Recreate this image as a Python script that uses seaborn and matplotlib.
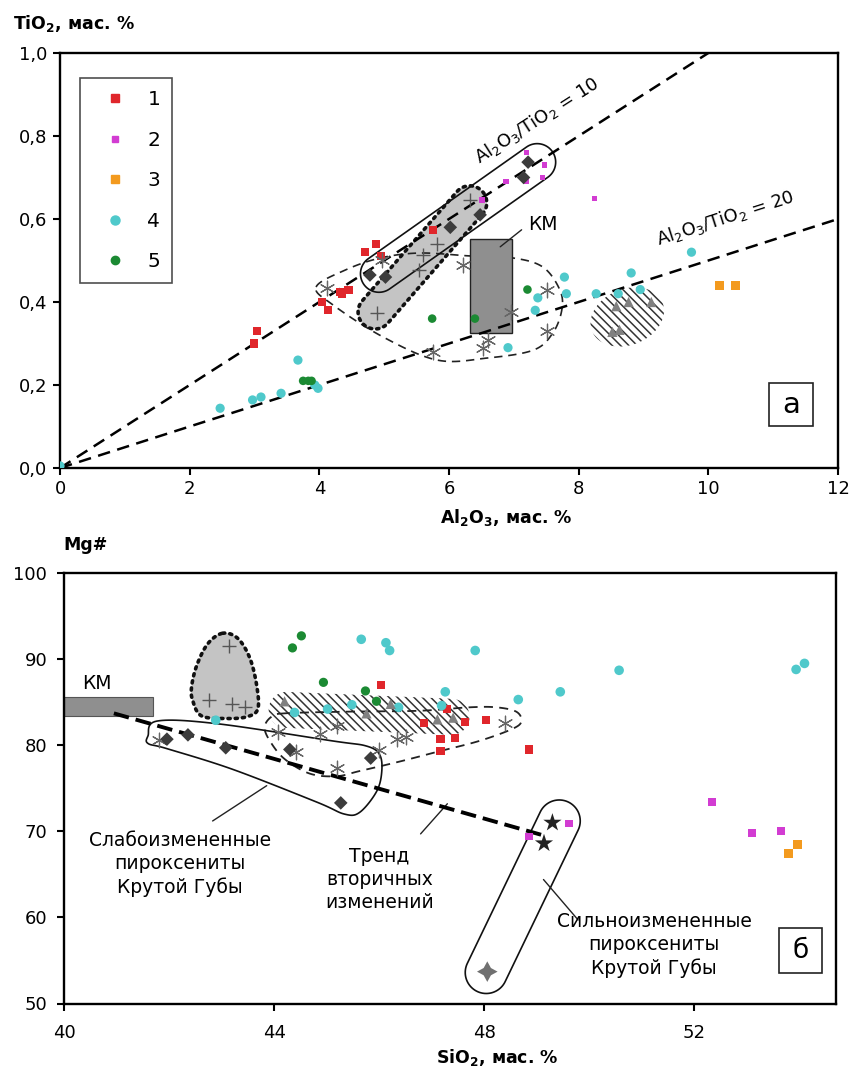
import numpy as np
import matplotlib
matplotlib.use("Agg")
import matplotlib.pyplot as plt
import seaborn as sns
from matplotlib.patches import Polygon, Rectangle
from matplotlib.lines import Line2D

sns.set_style("ticks")
plt.rcParams['font.family'] = ['DejaVu Sans']
plt.rcParams['mathtext.default'] = 'regular'
plt.rcParams['hatch.linewidth'] = 1.1
plt.rcParams['text.color'] = 'black'
plt.rcParams['axes.edgecolor'] = 'black'
plt.rcParams['xtick.color'] = 'black'
plt.rcParams['ytick.color'] = 'black'

# ---------------- Panel a: Al2O3 vs TiO2 ----------------
a_s1_x = [2.99, 3.04, 4.04, 4.14, 4.35, 4.45, 4.32, 4.71, 4.88, 4.95, 5.76]
a_s1_y = [0.30, 0.33, 0.40, 0.38, 0.42, 0.43, 0.425, 0.52, 0.54, 0.51, 0.573]
a_s2_x = [7.20, 7.47, 6.88, 7.19, 7.44, 6.51, 8.24]
a_s2_y = [0.76, 0.73, 0.69, 0.69, 0.70, 0.646, 0.65]
a_s3_x = [10.17, 10.42]
a_s3_y = [0.44, 0.44]
a_s4_x = [0.0, 2.47, 2.97, 3.10, 3.41, 3.67, 3.98, 3.93, 7.78, 7.81, 7.37, 7.33,
          6.91, 8.27, 8.61, 8.81, 8.95, 9.74]
a_s4_y = [0.005, 0.144, 0.164, 0.171, 0.18, 0.26, 0.192, 0.20, 0.46, 0.42, 0.41, 0.38,
          0.29, 0.42, 0.42, 0.47, 0.43, 0.52]
a_s5_x = [3.75, 3.83, 3.88, 5.74, 6.40, 7.21]
a_s5_y = [0.21, 0.21, 0.21, 0.36, 0.36, 0.43]
a_diam_x = [4.78, 5.02, 6.02, 6.48, 7.22, 7.15]
a_diam_y = [0.465, 0.46, 0.58, 0.61, 0.737, 0.70]
a_plus_x = [4.89, 5.53, 5.60, 5.82, 6.33]
a_plus_y = [0.373, 0.477, 0.513, 0.54, 0.646]
a_ast_x = [4.12, 4.97, 6.22, 7.51, 6.96, 7.51, 6.60, 6.52, 5.76]
a_ast_y = [0.433, 0.50, 0.49, 0.43, 0.376, 0.33, 0.308, 0.29, 0.28]
a_tri_x = [8.58, 8.77, 9.12, 8.52, 8.63]
a_tri_y = [0.39, 0.40, 0.40, 0.328, 0.333]
a_km_x = [6.33, 6.97]
a_km_y = [0.325, 0.552]
a_ratios = [10, 20]
a_xticks = [0, 2, 4, 6, 8, 10, 12]
a_yticks = [0.0, 0.2, 0.4, 0.6, 0.8, 1.0]
a_yticklabels = ["0,0", "0,2", "0,4", "0,6", "0,8", "1,0"]
legend_labels = ["1", "2", "3", "4", "5"]

# ---------------- Panel b: SiO2 vs Mg# ----------------
b_s1_x = [46.04, 46.86, 47.30, 47.64, 48.04, 47.17, 47.45, 47.17, 48.86]
b_s1_y = [87.0, 82.6, 84.2, 82.7, 82.9, 80.7, 80.8, 79.3, 79.5]
b_s2_x = [52.34, 53.10, 53.65, 49.62, 48.86]
b_s2_y = [73.4, 69.8, 70.0, 70.9, 69.4]
b_s3_x = [53.80, 53.97]
b_s3_y = [67.4, 68.5]
b_s4_x = [45.66, 46.13, 46.20, 42.89, 44.39, 45.02, 45.48, 46.37, 47.83, 50.57,
          53.94, 54.10, 47.26, 48.65, 49.45, 47.19]
b_s4_y = [92.3, 91.9, 91.0, 82.9, 83.8, 84.2, 84.7, 84.4, 91.0, 88.7,
          88.8, 89.5, 86.2, 85.3, 86.2, 84.6]
b_s5_x = [44.35, 44.52, 44.94, 45.74, 45.95]
b_s5_y = [91.3, 92.7, 87.3, 86.3, 85.1]
b_diam_x = [41.96, 42.36, 43.08, 44.30, 45.84, 45.27]
b_diam_y = [80.7, 81.2, 79.7, 79.5, 78.5, 73.3]
b_plus_x = [43.14, 42.76, 43.20, 43.45]
b_plus_y = [91.5, 85.3, 84.8, 84.4]
b_tri_x = [44.20, 45.76, 46.22, 47.11, 47.41]
b_tri_y = [85.1, 83.7, 84.8, 83.0, 83.2]
b_ast_x = [41.80, 44.07, 44.87, 45.19, 44.41, 45.19, 46.00, 46.35, 46.52, 48.40]
b_ast_y = [80.6, 81.5, 81.3, 82.2, 79.2, 77.4, 79.5, 80.7, 80.9, 82.6]
b_star_x = [49.30, 49.14]
b_star_y = [71.0, 68.6]
b_star4_x = [48.06]
b_star4_y = [53.7]
b_km_x = [40.0, 41.7]
b_km_y = [83.4, 85.6]
b_trend_x = [40.95, 49.2]
b_trend_y = [83.7, 69.4]
b_xticks = [40, 44, 48, 52]
b_yticks = [50, 60, 70, 80, 90, 100]

# colours
C1, C2, C3, C4, C5 = '#e0262b', '#d23cd2', '#f39a1e', '#4fc9cb', '#1b8a33'
C_DIAM, C_GRAY, C_TRI = '#3c3c3c', '#666666', '#808080'

fig = plt.figure(figsize=(8.52, 10.67), dpi=100)
W, H = 852.0, 1067.0
axA = fig.add_axes([60 / W, 1 - 468 / H, 778 / W, 415 / H])
axB = fig.add_axes([64 / W, 1 - 1003.5 / H, 772 / W, 430.5 / H])

axA.set_xlim(0, 12)
axA.set_ylim(0, 1.0)
axB.set_xlim(40, 54.7)
axB.set_ylim(50, 100)

for ax in (axA, axB):
    for sp in ax.spines.values():
        sp.set_linewidth(1.7)
        sp.set_color('black')
    ax.tick_params(direction='out', length=5, width=1.5, labelsize=13,
                   colors='black', pad=4)
    ax.set_xlabel('')
    ax.set_ylabel('')
axB.tick_params(axis='x', pad=10)
axB.tick_params(axis='y', pad=7)

axA.set_xticks(a_xticks)
axA.set_xticklabels([str(v) for v in a_xticks])
axA.set_yticks(a_yticks)
axA.set_yticklabels(a_yticklabels)
axB.set_xticks(b_xticks)
axB.set_xticklabels([str(v) for v in b_xticks])
axB.set_yticks(b_yticks)
axB.set_yticklabels([str(v) for v in b_yticks])


# ------------- geometry helpers (display-space shapes) -------------
def to_disp(ax, pts):
    return ax.transData.transform(np.asarray(pts, float))


def to_data(ax, P):
    return ax.transData.inverted().transform(np.asarray(P, float))


def capsule(ax, p0, p1, r, n=40):
    P0, P1 = to_disp(ax, [p0, p1])
    d = P1 - P0
    ang = np.arctan2(d[1], d[0])
    t1 = np.linspace(ang - np.pi / 2, ang + np.pi / 2, n)
    t0 = np.linspace(ang + np.pi / 2, ang + 3 * np.pi / 2, n)
    pts = np.vstack([P1 + r * np.c_[np.cos(t1), np.sin(t1)],
                     P0 + r * np.c_[np.cos(t0), np.sin(t0)]])
    return to_data(ax, pts)


def ellipse(ax, c, a, b, ang_deg, n=100):
    C = to_disp(ax, [c])[0]
    t = np.linspace(0, 2 * np.pi, n)
    th = np.radians(ang_deg)
    x = a * np.cos(t)
    y = b * np.sin(t)
    pts = np.c_[C[0] + x * np.cos(th) - y * np.sin(th),
                C[1] + x * np.sin(th) + y * np.cos(th)]
    return to_data(ax, pts)


def smooth_closed(ax, pts, k=14):
    P = to_disp(ax, pts)
    N = len(P)
    out = []
    for i in range(N):
        p0, p1, p2, p3 = P[i - 1], P[i], P[(i + 1) % N], P[(i + 2) % N]
        for t in np.linspace(0, 1, k, endpoint=False):
            t2, t3 = t * t, t * t * t
            out.append(0.5 * (2 * p1 + (-p0 + p2) * t
                              + (2 * p0 - 5 * p1 + 4 * p2 - p3) * t2
                              + (-p0 + 3 * p1 - 3 * p2 + p3) * t3))
    return to_data(ax, out)


def pts(ax, x, y, marker, color, s, lw=0.0):
    kw = dict(x=x, y=y, marker=marker, color=color, s=s, ax=ax, zorder=5,
              legend=False)
    m = matplotlib.markers.MarkerStyle(marker)
    if m.is_filled():
        kw.update(linewidth=0, edgecolor='none')
    else:
        kw.update(linewidth=lw)
    sns.scatterplot(**kw)


# ======================= Panel a shapes =======================
a_dash_outline = [(3.95, 0.436), (4.40, 0.477), (4.94, 0.506), (5.55, 0.518),
                  (6.32, 0.511), (6.99, 0.506), (7.45, 0.484), (7.71, 0.429),
                  (7.74, 0.381), (7.60, 0.325), (7.30, 0.284), (6.59, 0.265),
                  (5.82, 0.260), (4.98, 0.316), (4.21, 0.393)]
axA.add_patch(Polygon(smooth_closed(axA, a_dash_outline), closed=True, fill=False,
                      edgecolor='#222222', linewidth=1.2, linestyle=(0, (5, 3.5)),
                      zorder=2))
axA.add_patch(Polygon(capsule(axA, (4.86, 0.376), (6.32, 0.639), 17), closed=True,
                      facecolor='#c4c4c4', edgecolor='none', zorder=1.5))
dot = Polygon(capsule(axA, (4.86, 0.376), (6.32, 0.639), 17), closed=True,
              fill=False, edgecolor='#111111', linewidth=2.6,
              linestyle=(0, (0.6, 1.4)), zorder=2.2)
dot.set_capstyle('round')
axA.add_patch(dot)
axA.add_patch(Polygon(capsule(axA, (4.92, 0.468), (7.36, 0.737), 18.5), closed=True,
                      fill=False, edgecolor='#111111', linewidth=1.2, zorder=2.3))
axA.add_patch(Polygon(ellipse(axA, (8.75, 0.364), 38, 28, 22), closed=True,
                      facecolor='white', edgecolor='#333333', linewidth=0,
                      hatch='\\\\\\\\', zorder=1.5))
axA.add_patch(Rectangle((a_km_x[0], a_km_y[0]), a_km_x[1] - a_km_x[0],
                        a_km_y[1] - a_km_y[0], facecolor='#8f8f8f',
                        edgecolor='#222222', linewidth=1.0, zorder=2.5))
axA.plot([6.79, 7.12], [0.533, 0.574], color='#222222', lw=1.0, zorder=3)
axA.text(7.22, 0.587, "КМ", fontsize=13.5, ha='left', va='center', zorder=6)

xl = np.array([0.0, 12.0])
for r in a_ratios:
    axA.plot(xl, xl / r, color='black', lw=1.8, linestyle=(0, (5, 3)), zorder=3.5)
axA.text(7.36, 0.838, r"Al$_2$O$_3$/TiO$_2$ = 10", fontsize=13, ha='center',
         va='center', rotation=np.degrees(np.arctan(1 / 10)),
         transform_rotates_text=True, rotation_mode='anchor', zorder=6)
axA.text(10.26, 0.602, r"Al$_2$O$_3$/TiO$_2$ = 20", fontsize=13, ha='center',
         va='center', rotation=np.degrees(np.arctan(1 / 20)),
         transform_rotates_text=True, rotation_mode='anchor', zorder=6)

pts(axA, a_s1_x, a_s1_y, 's', C1, 34)
pts(axA, a_s2_x, a_s2_y, 's', C2, 14)
pts(axA, a_s3_x, a_s3_y, 's', C3, 40)
pts(axA, a_s4_x, a_s4_y, 'o', C4, 44)
pts(axA, a_s5_x, a_s5_y, 'o', C5, 38)
pts(axA, a_tri_x, a_tri_y, '^', C_TRI, 55)
pts(axA, a_ast_x, a_ast_y, (6, 2, 0), C_GRAY, 110, lw=0.9)
pts(axA, a_plus_x, a_plus_y, '+', '#555555', 110, lw=1.0)
pts(axA, a_diam_x, a_diam_y, 'D', C_DIAM, 48)

handles = [Line2D([], [], marker='s', color=C1, linestyle='', markersize=6),
           Line2D([], [], marker='s', color=C2, linestyle='', markersize=4),
           Line2D([], [], marker='s', color=C3, linestyle='', markersize=6),
           Line2D([], [], marker='o', color=C4, linestyle='', markersize=6.5),
           Line2D([], [], marker='o', color=C5, linestyle='', markersize=6)]
leg = axA.legend(handles, legend_labels, loc='upper left',
                 bbox_to_anchor=((80 - 60) / 778, (468 - 78) / 415),
                 borderaxespad=0, fontsize=14.5, frameon=True, fancybox=False,
                 handlelength=2.3, handletextpad=0.45, borderpad=0.6,
                 labelspacing=1.07)
leg.get_frame().set_edgecolor('#222222')
leg.get_frame().set_linewidth(1.2)
leg.set_zorder(7)

axA.add_patch(Rectangle((0.911, 0.101), 0.057, 0.104, transform=axA.transAxes,
                        fill=False, edgecolor='#222222', lw=1.2, zorder=6))
axA.text(0.9395, 0.153, "а", transform=axA.transAxes, fontsize=21,
         ha='center', va='center', zorder=6)

# ======================= Panel b shapes =======================
b_dot_outline = [(43.02, 93.0), (43.31, 92.4), (43.54, 90.1), (43.67, 86.9),
                 (43.69, 84.2), (43.48, 83.3), (43.10, 83.1), (42.62, 83.4),
                 (42.45, 85.2), (42.43, 86.8), (42.53, 89.3), (42.74, 91.8)]
shp = smooth_closed(axB, b_dot_outline)
axB.add_patch(Polygon(shp, closed=True, facecolor='#c4c4c4', edgecolor='none',
                      zorder=1.5))
dotb = Polygon(shp, closed=True, fill=False, edgecolor='#111111', linewidth=2.6,
               linestyle=(0, (0.6, 1.4)), zorder=2.2)
dotb.set_capstyle('round')
axB.add_patch(dotb)

axB.add_patch(Polygon(capsule(axB, (44.24, 84.1), (47.38, 83.3), 18), closed=True,
                      facecolor='white', edgecolor='#333333', linewidth=0,
                      hatch='\\\\\\\\', zorder=1.5))

b_dash_outline = [(44.20, 83.7), (45.44, 83.9), (46.77, 84.0), (47.72, 84.4),
                  (48.23, 84.4), (48.61, 83.9), (48.71, 82.8), (48.54, 81.9),
                  (47.91, 80.5), (47.15, 79.3), (46.39, 78.1), (45.63, 77.0),
                  (45.19, 76.4), (44.68, 76.7), (44.20, 78.4), (43.92, 80.5),
                  (43.82, 82.1), (43.95, 83.3)]
axB.add_patch(Polygon(smooth_closed(axB, b_dash_outline), closed=True, fill=False,
                      edgecolor='#222222', linewidth=1.3, linestyle=(0, (5, 3.5)),
                      zorder=2))

b_solid_outline = [(41.60, 81.1), (41.77, 82.8), (42.91, 82.5), (45.11, 80.5),
                   (45.76, 79.9), (46.01, 78.9), (46.05, 76.9), (45.95, 74.6),
                   (45.63, 72.2), (45.34, 72.0), (44.81, 73.4), (43.21, 77.2),
                   (41.96, 79.6), (41.60, 80.2)]
axB.add_patch(Polygon(smooth_closed(axB, b_solid_outline), closed=True, fill=False,
                      edgecolor='#111111', linewidth=1.2, zorder=2.3))

axB.add_patch(Polygon(capsule(axB, (48.04, 53.6), (49.43, 71.2), 21), closed=True,
                      fill=False, edgecolor='#111111', linewidth=1.2, zorder=2.3))

axB.add_patch(Rectangle((b_km_x[0], b_km_y[0]), b_km_x[1] - b_km_x[0],
                        b_km_y[1] - b_km_y[0], facecolor='#8f8f8f',
                        edgecolor='#555555', linewidth=0.8, zorder=2.5,
                        clip_on=False))
axB.text(40.34, 87.2, "КМ", fontsize=13.5, ha='left', va='center', zorder=6)

axB.plot(b_trend_x, b_trend_y, color='black', lw=2.8, linestyle=(0, (4, 1.8)),
         zorder=3.5)

pts(axB, b_s1_x, b_s1_y, 's', C1, 34)
pts(axB, b_s2_x, b_s2_y, 's', C2, 30)
pts(axB, b_s3_x, b_s3_y, 's', C3, 40)
pts(axB, b_s4_x, b_s4_y, 'o', C4, 48)
pts(axB, b_s5_x, b_s5_y, 'o', C5, 44)
pts(axB, b_tri_x, b_tri_y, '^', C_TRI, 55)
pts(axB, b_ast_x, b_ast_y, (6, 2, 0), C_GRAY, 110, lw=0.9)
pts(axB, b_plus_x, b_plus_y, '+', '#555555', 110, lw=1.0)
pts(axB, b_diam_x, b_diam_y, 'D', C_DIAM, 48)
pts(axB, b_star_x, b_star_y, '*', '#222222', 190)
pts(axB, b_star4_x, b_star4_y, (4, 1, 0), '#707070', 220)

axB.plot([42.83, 43.86], [71.2, 75.3], color='#222222', lw=1.0, zorder=3)
axB.plot([46.79, 47.30], [69.7, 73.2], color='#222222', lw=1.0, zorder=3)
axB.plot([49.13, 49.79], [64.4, 59.7], color='#222222', lw=1.0, zorder=3)
axB.text(42.21, 66.2, "Слабоизмененные\nпироксениты\nКрутой Губы", fontsize=13.5,
         ha='center', va='center', linespacing=1.25, zorder=6)
axB.text(46.01, 64.4, "Тренд\nвторичных\nизменений", fontsize=13.5,
         ha='center', va='center', linespacing=1.25, zorder=6)
axB.text(51.24, 56.8, "Сильноизмененные\nпироксениты\nКрутой Губы", fontsize=13.5,
         ha='center', va='center', linespacing=1.25, zorder=6)

axB.add_patch(Rectangle((0.926, 0.071), 0.056, 0.104, transform=axB.transAxes,
                        fill=False, edgecolor='#222222', lw=1.2, zorder=6))
axB.text(0.954, 0.123, "б", transform=axB.transAxes, fontsize=19,
         ha='center', va='center', zorder=6)

fig.text(13 / W, 1 - 24 / H, "TiO$_2$, мас. %", fontsize=12.5, fontweight='bold',
         ha='left', va='center')
fig.text(506 / W, 1 - 517 / H, "Al$_2$O$_3$, мас. %", fontsize=12.5,
         fontweight='bold', ha='center', va='center')
fig.text(63 / W, 1 - 545 / H, "Mg#", fontsize=12.5, fontweight='bold',
         ha='left', va='center')
fig.text(497 / W, 1 - 1057 / H, "SiO$_2$, мас. %", fontsize=12.5,
         fontweight='bold', ha='center', va='center')

fig.savefig("out.png", dpi=100, facecolor='white')
